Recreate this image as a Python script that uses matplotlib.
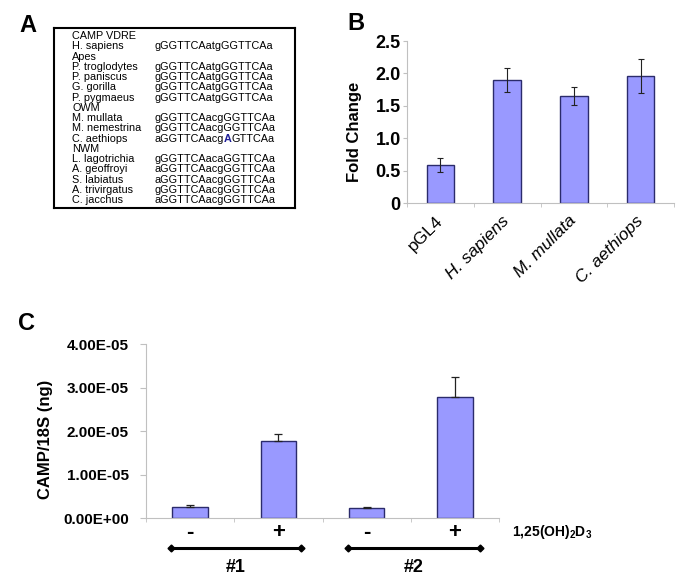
import matplotlib
matplotlib.use("Agg")
import matplotlib.pyplot as plt
from matplotlib import transforms
from matplotlib.ticker import FixedLocator, FuncFormatter

plt.rcParams['font.family'] = ['Liberation Sans', 'DejaVu Sans']
plt.rcParams['mathtext.fontset'] = 'custom'
plt.rcParams['mathtext.bf'] = 'Liberation Sans:bold'
plt.rcParams['mathtext.rm'] = 'Liberation Sans'

# --- panel A: sequence alignment
species = ['CAMP VDRE', 'H. sapiens', 'Apes', 'P. troglodytes', 'P. paniscus', 'G. gorilla',
           'P. pygmaeus', 'OWM', 'M. mullata', 'M. nemestrina', 'C. aethiops', 'NWM',
           'L. lagotrichia', 'A. geoffroyi', 'S. labiatus', 'A. trivirgatus', 'C. jacchus']
sequences = ['', 'gGGTTCAatgGGTTCAa', '', 'gGGTTCAatgGGTTCAa', 'gGGTTCAatgGGTTCAa',
             'gGGTTCAatgGGTTCAa', 'gGGTTCAatgGGTTCAa', '', 'gGGTTCAacgGGTTCAa',
             'gGGTTCAacgGGTTCAa', 'aGGTTCAacgAGTTCAa', '', 'gGGTTCAacaGGTTCAa',
             'aGGTTCAacgGGTTCAa', 'aGGTTCAacgGGTTCAa', 'gGGTTCAacgGGTTCAa', 'aGGTTCAacgGGTTCAa']
mutant_row = 'C. aethiops'
mutant_pos = 10

# --- panel B: luciferase fold change
b_labels = ['pGL4', 'H. sapiens', 'M. mullata', 'C. aethiops']
b_values = [0.59, 1.90, 1.65, 1.96]
b_err = [0.105, 0.19, 0.14, 0.255]

# --- panel C: CAMP expression
c_labels = ['-', '+', '-', '+']
c_values = [2.6e-6, 1.77e-5, 2.3e-6, 2.78e-5]
c_err = [0.3e-6, 1.6e-6, 0.15e-6, 4.6e-6]
c_groups = ['#1', '#2']

W, H = 685, 583
bar_color = '#9999ff'
edge_color = '#2b2b6b'
spine_gray = '#c0c0c0'


def fx(x):
    return x / W


def fy(y):
    return 1 - y / H


fig = plt.figure(figsize=(6.85, 5.83), dpi=100)

# panel letters
fig.text(fx(19), fy(25), 'A', fontsize=17, fontweight='bold', va='center', ha='left')
fig.text(fx(347), fy(24), 'B', fontsize=17, fontweight='bold', va='center', ha='left')
fig.text(fx(18), fy(323), 'C', fontsize=17, fontweight='bold', va='center', ha='left')

# ---------------- A
axA = fig.add_axes([fx(54), fy(208), (295 - 54) / W, (208 - 28) / H])
axA.set_xticks([])
axA.set_yticks([])
for s in axA.spines.values():
    s.set_linewidth(1.5)
row0, step = 0.955, 0.057
fs_a = 7.8
for i, (sp, sq) in enumerate(zip(species, sequences)):
    y = row0 - i * step
    axA.text(0.075, y, sp, fontsize=fs_a, va='center', transform=axA.transAxes)
    if not sq:
        continue
    if sp == mutant_row:
        t1 = axA.text(0.415, y, sq[:mutant_pos], fontsize=fs_a, va='center', transform=axA.transAxes)
        t2 = axA.annotate(sq[mutant_pos], xy=(1, 0), xycoords=t1, va='bottom', ha='left',
                          fontsize=fs_a, fontweight='bold', color='#1f1f99')
        axA.annotate(sq[mutant_pos + 1:], xy=(1, 0), xycoords=t2, va='bottom', ha='left',
                     fontsize=fs_a)
    else:
        axA.text(0.415, y, sq, fontsize=fs_a, va='center', transform=axA.transAxes)

# ---------------- B
axB = fig.add_axes([fx(407), fy(203), (674 - 407) / W, (203 - 41) / H])
xb = range(len(b_values))
axB.bar(xb, b_values, width=0.41, color=bar_color, edgecolor=edge_color, linewidth=1.0, zorder=2)
axB.errorbar(xb, b_values, yerr=b_err, fmt='none', ecolor='#222222', elinewidth=0.8,
             capsize=2.5, capthick=0.8, zorder=3)
axB.set_xlim(-0.5, 3.5)
axB.set_ylim(0, 2.5)
axB.spines['top'].set_visible(False)
axB.spines['right'].set_visible(False)
axB.spines['left'].set_color(spine_gray)
axB.spines['bottom'].set_color(spine_gray)
axB.set_yticks([0, 0.5, 1.0, 1.5, 2.0, 2.5])
axB.set_yticklabels(['0', '0.5', '1.0', '1.5', '2.0', '2.5'], fontsize=13, fontweight='bold')
axB.tick_params(axis='y', length=3, color=spine_gray, pad=1.5)
axB.set_xticks(list(xb))
axB.set_xticklabels(b_labels, fontsize=12.5, rotation=45, ha='right', va='center',
                    rotation_mode='anchor')
for lab in axB.get_xticklabels()[1:]:
    lab.set_style('italic')
offset = transforms.ScaledTranslation(8 / 72, 0, fig.dpi_scale_trans)
for lab in axB.get_xticklabels():
    lab.set_transform(lab.get_transform() + offset)
axB.tick_params(axis='x', which='major', length=0, pad=11)
axB.xaxis.set_minor_locator(FixedLocator([-0.5, 0.5, 1.5, 2.5, 3.5]))
axB.tick_params(axis='x', which='minor', length=3, color=spine_gray)
axB.text(-0.195, 0.44, 'Fold Change', transform=axB.transAxes, rotation=90,
         ha='center', va='center', fontsize=12, fontweight='bold')

# ---------------- C
axC = fig.add_axes([fx(146), fy(518), (499 - 146) / W, (518 - 344) / H])
xc = range(len(c_values))
axC.bar(xc, c_values, width=0.4, color=bar_color, edgecolor=edge_color, linewidth=1.0, zorder=2)
axC.errorbar(xc, c_values, yerr=[[0] * len(c_err), c_err], fmt='none', ecolor='#222222',
             elinewidth=0.9, capsize=3, capthick=0.9, zorder=3)
axC.set_xlim(-0.5, 3.5)
axC.set_ylim(0, 4e-5)
axC.spines['top'].set_visible(False)
axC.spines['right'].set_visible(False)
axC.spines['left'].set_color(spine_gray)
axC.spines['bottom'].set_color(spine_gray)
axC.set_yticks([0, 1e-5, 2e-5, 3e-5, 4e-5])
axC.yaxis.set_major_formatter(FuncFormatter(lambda v, p: f'{v:.2E}'))
axC.tick_params(axis='y', length=4.5, color=spine_gray, pad=8, labelsize=11)
plt.setp(axC.get_yticklabels(), fontweight='bold')
axC.set_xticks([])
axC.xaxis.set_minor_locator(FixedLocator([-0.5, 0.5, 1.5, 2.5, 3.5]))
axC.tick_params(axis='x', which='minor', length=3, color=spine_gray)
xtrans = transforms.blended_transform_factory(axC.transData, axC.transAxes)
for i, lab in enumerate(c_labels):
    axC.text(i, -0.115, lab, transform=xtrans, ha='center', va='baseline',
             fontsize=16, fontweight='bold')
axC.text(3.65, -0.105, r'1,25(OH)$\mathbf{_2}$D$\mathbf{_3}$', transform=xtrans,
         ha='left', va='baseline', fontsize=10, fontweight='bold')
for g, (x0, x1) in zip(c_groups, [(-0.22, 1.26), (1.79, 3.28)]):
    axC.plot([x0, x1], [-0.172, -0.172], transform=xtrans, color='black', lw=2.2,
             marker='D', markersize=3.5, clip_on=False)
    axC.text((x0 + x1) / 2, -0.283, g, transform=xtrans, ha='center', va='center',
             fontsize=13, fontweight='bold')
axC.text(-0.286, 0.45, 'CAMP/18S (ng)', transform=axC.transAxes, rotation=90,
         ha='center', va='center', fontsize=12, fontweight='bold')

fig.savefig('out.png', dpi=100)
